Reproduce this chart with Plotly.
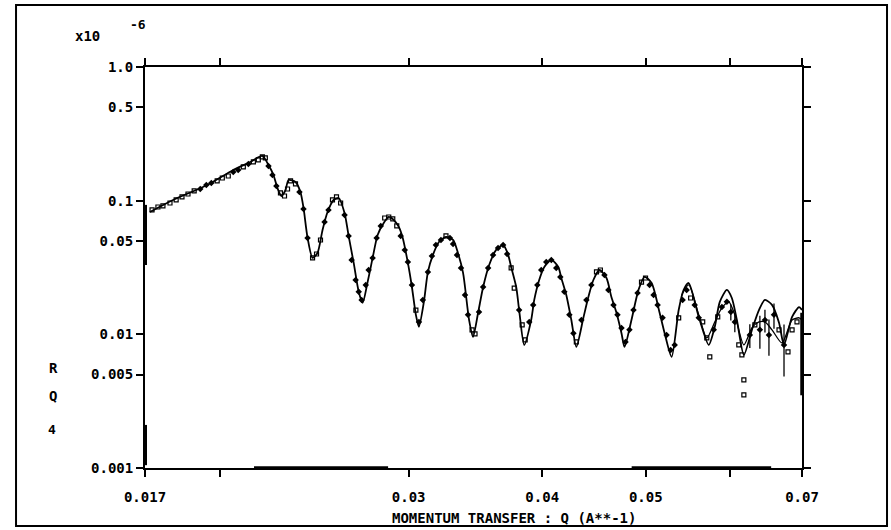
import plotly.graph_objects as go

# Reflectivity R*Q^4 (units of 1e-6) versus momentum transfer Q (1/A)

# Calculated reflectivity curve
Q_calc = [0.01718, 0.01806, 0.01944, 0.02056, 0.02133, 0.02189, 0.02218, 0.02242, 0.02261, 0.02281,
          0.02301, 0.02316, 0.02351, 0.02376, 0.02392, 0.02413, 0.02439, 0.02465, 0.02492, 0.02519,
          0.02552, 0.02580, 0.02613, 0.02636, 0.02665, 0.02694, 0.02717, 0.02746, 0.02776, 0.02806,
          0.02843, 0.02874, 0.02905, 0.02937, 0.02962, 0.02995, 0.03021, 0.03047, 0.03067, 0.03100,
          0.03127, 0.03161, 0.03202, 0.03251, 0.03301, 0.03336, 0.03373, 0.03417, 0.03446, 0.03484,
          0.03522, 0.03568, 0.03622, 0.03677, 0.03717, 0.03741, 0.03782, 0.03806, 0.03848, 0.03906,
          0.03932, 0.03974, 0.04018, 0.04079, 0.04141, 0.04168, 0.04213, 0.04259, 0.04305, 0.04371,
          0.04418, 0.04466, 0.04525, 0.04594, 0.04643, 0.04694, 0.04745, 0.04776, 0.04848, 0.04922,
          0.04987, 0.05063, 0.05151, 0.05207, 0.05286, 0.05367, 0.05425, 0.05484, 0.05604, 0.05726,
          0.05801, 0.05864, 0.05954, 0.06018, 0.06084, 0.06176, 0.06284, 0.06380, 0.06463, 0.06562,
          0.06662, 0.06734, 0.06852, 0.06956, 0.07000]
R_calc = [0.0823, 0.1012, 0.1311, 0.1697, 0.1948, 0.2159, 0.1849, 0.1557, 0.1245, 0.1084,
          0.1202, 0.1428, 0.1380, 0.1162, 0.0882, 0.0526, 0.0373, 0.0406, 0.0604, 0.0823,
          0.1012, 0.1047, 0.0809, 0.0545, 0.0342, 0.0208, 0.0172, 0.0246, 0.0373, 0.0554,
          0.0681, 0.0755, 0.0717, 0.0636, 0.0526, 0.0342, 0.0226, 0.0140, 0.0114, 0.0175,
          0.0293, 0.0393, 0.0491, 0.0535, 0.0508, 0.0406, 0.0288, 0.0128, 0.00956, 0.0145,
          0.0226, 0.0330, 0.0428, 0.0466, 0.0393, 0.0319, 0.0226, 0.0152, 0.00833, 0.0128,
          0.0181, 0.0255, 0.0319, 0.0360, 0.0319, 0.0264, 0.0197, 0.0128, 0.00805, 0.0133,
          0.0190, 0.0255, 0.0303, 0.0264, 0.0190, 0.0145, 0.0102, 0.00805, 0.0128, 0.0215,
          0.0269, 0.0242, 0.0145, 0.0102, 0.00678, 0.0152, 0.0215, 0.0242, 0.0135, 0.00833,
          0.0114, 0.0175, 0.0215, 0.0187, 0.0128, 0.00701, 0.0108, 0.0152, 0.0181, 0.0166,
          0.0122, 0.00833, 0.0135, 0.0160, 0.0152]

# Second calculation, diverging at high Q
Q_calc2 = [0.05402, 0.05484, 0.05604, 0.05702, 0.05801, 0.05890, 0.05979, 0.06057, 0.06176,
           0.06284, 0.06380, 0.06463, 0.06562, 0.06705, 0.06852, 0.06956, 0.07000]
R_calc2 = [0.0197, 0.0234, 0.0140, 0.0094, 0.01238, 0.01575, 0.0175, 0.0140, 0.00833,
           0.01117, 0.01238, 0.01238, 0.0108, 0.00862, 0.0128, 0.0133, 0.0128]

# Measured points, open symbols
Q_open = [0.01726, 0.01748, 0.01767, 0.01794, 0.01818, 0.01841, 0.01865, 0.01890, 0.01986, 0.02008,
          0.02034, 0.02101, 0.02147, 0.02170, 0.02189, 0.02203, 0.02276, 0.02296, 0.02311, 0.02326,
          0.02351, 0.02439, 0.02460, 0.02481, 0.02546, 0.02568, 0.02591, 0.02849, 0.02874, 0.02899,
          0.02924, 0.03047, 0.03251, 0.03439, 0.03461, 0.03741, 0.03766, 0.03831, 0.03856, 0.04305,
          0.04496, 0.04534, 0.04954, 0.04997, 0.05367, 0.05507, 0.05652, 0.05702, 0.05739, 0.05838,
          0.06109, 0.06150, 0.06176, 0.06176, 0.06324, 0.06662, 0.06792, 0.06852, 0.06925]
R_open = [0.0852, 0.0897, 0.0913, 0.0961, 0.1012, 0.1066, 0.1122, 0.1182, 0.1404, 0.1478,
          0.1530, 0.1787, 0.1948, 0.2016, 0.2123, 0.2087, 0.1142, 0.1084, 0.1223, 0.1404,
          0.1334, 0.0373, 0.0399, 0.0508, 0.1012, 0.1066, 0.0961, 0.0742, 0.0755, 0.0730,
          0.0647, 0.0152, 0.0545, 0.0108, 0.01007, 0.0314, 0.0222, 0.01175, 0.00908, 0.00877,
          0.0293, 0.0303, 0.0246, 0.0264, 0.0133, 0.0187, 0.01238, 0.0094, 0.00678, 0.0135,
          0.00833, 0.00701, 0.00456, 0.00352, 0.01175, 0.0108, 0.00739, 0.0108, 0.01238]

# Measured points, filled symbols
Q_fill = [0.01915, 0.01940, 0.01961, 0.02056, 0.02078, 0.02124, 0.02218, 0.02237, 0.02256, 0.02371,
          0.02392, 0.02413, 0.02503, 0.02524, 0.02613, 0.02636, 0.02653, 0.02676, 0.02694, 0.02711,
          0.02735, 0.02752, 0.02776, 0.02800, 0.02825, 0.02949, 0.02975, 0.02995, 0.03021, 0.03067,
          0.03093, 0.03127, 0.03154, 0.03181, 0.03216, 0.03279, 0.03301, 0.03329, 0.03358, 0.03387,
          0.03409, 0.03491, 0.03522, 0.03560, 0.03598, 0.03637, 0.03677, 0.03709, 0.03806, 0.03890,
          0.03923, 0.03958, 0.03992, 0.04035, 0.04079, 0.04123, 0.04159, 0.04195, 0.04241, 0.04278,
          0.04352, 0.04399, 0.04447, 0.04574, 0.04613, 0.04664, 0.04704, 0.04745, 0.04786, 0.04827,
          0.04869, 0.04912, 0.05041, 0.05084, 0.05129, 0.05184, 0.05229, 0.05275, 0.05321, 0.05413,
          0.05460, 0.05555, 0.05604, 0.05788, 0.05890, 0.05954]
R_fill = [0.1223, 0.1311, 0.1357, 0.1639, 0.1697, 0.1882, 0.1818, 0.1557, 0.1288, 0.1162,
          0.0867, 0.0526, 0.0693, 0.0852, 0.0782, 0.0545, 0.0360, 0.0255, 0.0208, 0.0181,
          0.0234, 0.0303, 0.0373, 0.0526, 0.0647, 0.0545, 0.0428, 0.0348, 0.0234, 0.01238,
          0.0181, 0.0293, 0.0386, 0.0466, 0.0508, 0.0526, 0.0474, 0.0393, 0.0314, 0.0197,
          0.0140, 0.0147, 0.0226, 0.0314, 0.0393, 0.0443, 0.0466, 0.0399, 0.0152, 0.01238,
          0.0166, 0.0234, 0.0303, 0.0348, 0.0360, 0.0314, 0.0269, 0.0208, 0.0140, 0.0102,
          0.0128, 0.0181, 0.0234, 0.0278, 0.0215, 0.0166, 0.0140, 0.01117, 0.00877, 0.0108,
          0.0152, 0.0204, 0.0234, 0.0197, 0.0166, 0.0133, 0.00990, 0.00764, 0.00833, 0.0181,
          0.0215, 0.0166, 0.0133, 0.0108, 0.0160, 0.0175]

# High-Q measured points with error bars
Q_hi = [0.06005, 0.06057, 0.06256, 0.06393, 0.06463, 0.06519, 0.06590, 0.06734]
R_hi = [0.0147, 0.01238, 0.00990, 0.0108, 0.0128, 0.00990, 0.0140, 0.00833]
dR_hi = [0.0020, 0.0020, 0.0020, 0.0030, 0.0025, 0.0030, 0.0030, 0.0035]

x_ticks = [0.017, 0.02, 0.03, 0.04, 0.05, 0.06, 0.07]
x_ticktext = ["0.017", "", "0.03", "0.04", "0.05", "", "0.07"]
y_ticks = [0.001, 0.005, 0.01, 0.05, 0.1, 0.5, 1.0]
y_ticktext = ["0.001", "0.005", "0.01", "0.05", "0.1", "0.5", "1.0"]

FONT = "DejaVu Sans Mono"
INK = "black"

fig = go.Figure()

fig.add_trace(go.Scatter(x=Q_calc, y=R_calc, mode="lines",
                         line=dict(color=INK, width=1.8, shape="spline", smoothing=0.7),
                         showlegend=False))
fig.add_trace(go.Scatter(x=Q_calc2, y=R_calc2, mode="lines",
                         line=dict(color=INK, width=1.3, shape="spline", smoothing=0.7),
                         showlegend=False))
fig.add_trace(go.Scatter(x=Q_open, y=R_open, mode="markers",
                         marker=dict(symbol="square-open", size=4, color=INK,
                                     line=dict(width=1.2, color=INK)),
                         showlegend=False))
fig.add_trace(go.Scatter(x=Q_fill, y=R_fill, mode="markers",
                         marker=dict(symbol="diamond", size=5, color=INK),
                         showlegend=False))
fig.add_trace(go.Scatter(x=Q_hi, y=R_hi, mode="markers",
                         marker=dict(symbol="diamond", size=5, color=INK),
                         error_y=dict(type="data", array=dR_hi, visible=True,
                                      color=INK, thickness=1.3, width=0),
                         showlegend=False))

axis_common = dict(
    type="log", showline=True, linecolor=INK, linewidth=2, mirror="ticks",
    ticks="outside", ticklen=7, tickwidth=1.5, tickcolor=INK,
    showgrid=False, zeroline=False,
    tickfont=dict(family=FONT, size=14, color=INK, weight="bold"),
)

fig.update_xaxes(range=[-1.76955, -1.15490], tickmode="array",
                 tickvals=x_ticks, ticktext=x_ticktext,
                 ticklabelstandoff=8, **axis_common)
fig.update_yaxes(range=[-3, 0], tickmode="array",
                 tickvals=y_ticks, ticktext=y_ticktext, **axis_common)

annotations = [
    dict(text="MOMENTUM TRANSFER : Q (A**-1)", x=0.5616, y=-0.124,
         font=dict(size=14)),
    dict(text="x10", x=-0.0868, y=1.077, font=dict(size=14)),
    dict(text="-6", x=-0.0107, y=1.107, font=dict(size=13)),
    dict(text="R", x=-0.14, y=0.249, font=dict(size=14)),
    dict(text="Q", x=-0.14, y=0.180, font=dict(size=14)),
    dict(text="4", x=-0.142, y=0.095, font=dict(size=13)),
]
for a in annotations:
    a.update(xref="paper", yref="paper", showarrow=False,
             xanchor="center", yanchor="middle")
    a["font"].update(family=FONT, color=INK, weight="bold")

# Outer frame around the whole plot sheet
shapes = [
    dict(type="rect", xref="paper", yref="paper",
         x0=-0.1963, x1=1.1294, y0=-0.1446, y1=1.1546,
         line=dict(color=INK, width=2)),
]
# Heavier inked stretches along the axes
for y0, y1 in [(0.033, 0.093), (0.00105, 0.0021)]:
    shapes.append(dict(type="line", xref="paper", yref="y", x0=0, x1=0,
                       y0=y0, y1=y1, line=dict(color=INK, width=4)))
for x0, x1 in [(0.0215, 0.0287), (0.0485, 0.0655)]:
    shapes.append(dict(type="line", xref="x", yref="paper", x0=x0, x1=x1,
                       y0=0, y1=0, line=dict(color=INK, width=3.5)))
shapes.append(dict(type="line", xref="paper", yref="y", x0=1, x1=1,
                   y0=0.0035, y1=0.0145, line=dict(color=INK, width=3.5)))

fig.update_layout(
    width=891, height=530,
    margin=dict(l=145, r=89, t=67, b=62),
    paper_bgcolor="white", plot_bgcolor="white",
    annotations=annotations, shapes=shapes,
    font=dict(family=FONT, color=INK),
)

fig.write_html("out.html")
